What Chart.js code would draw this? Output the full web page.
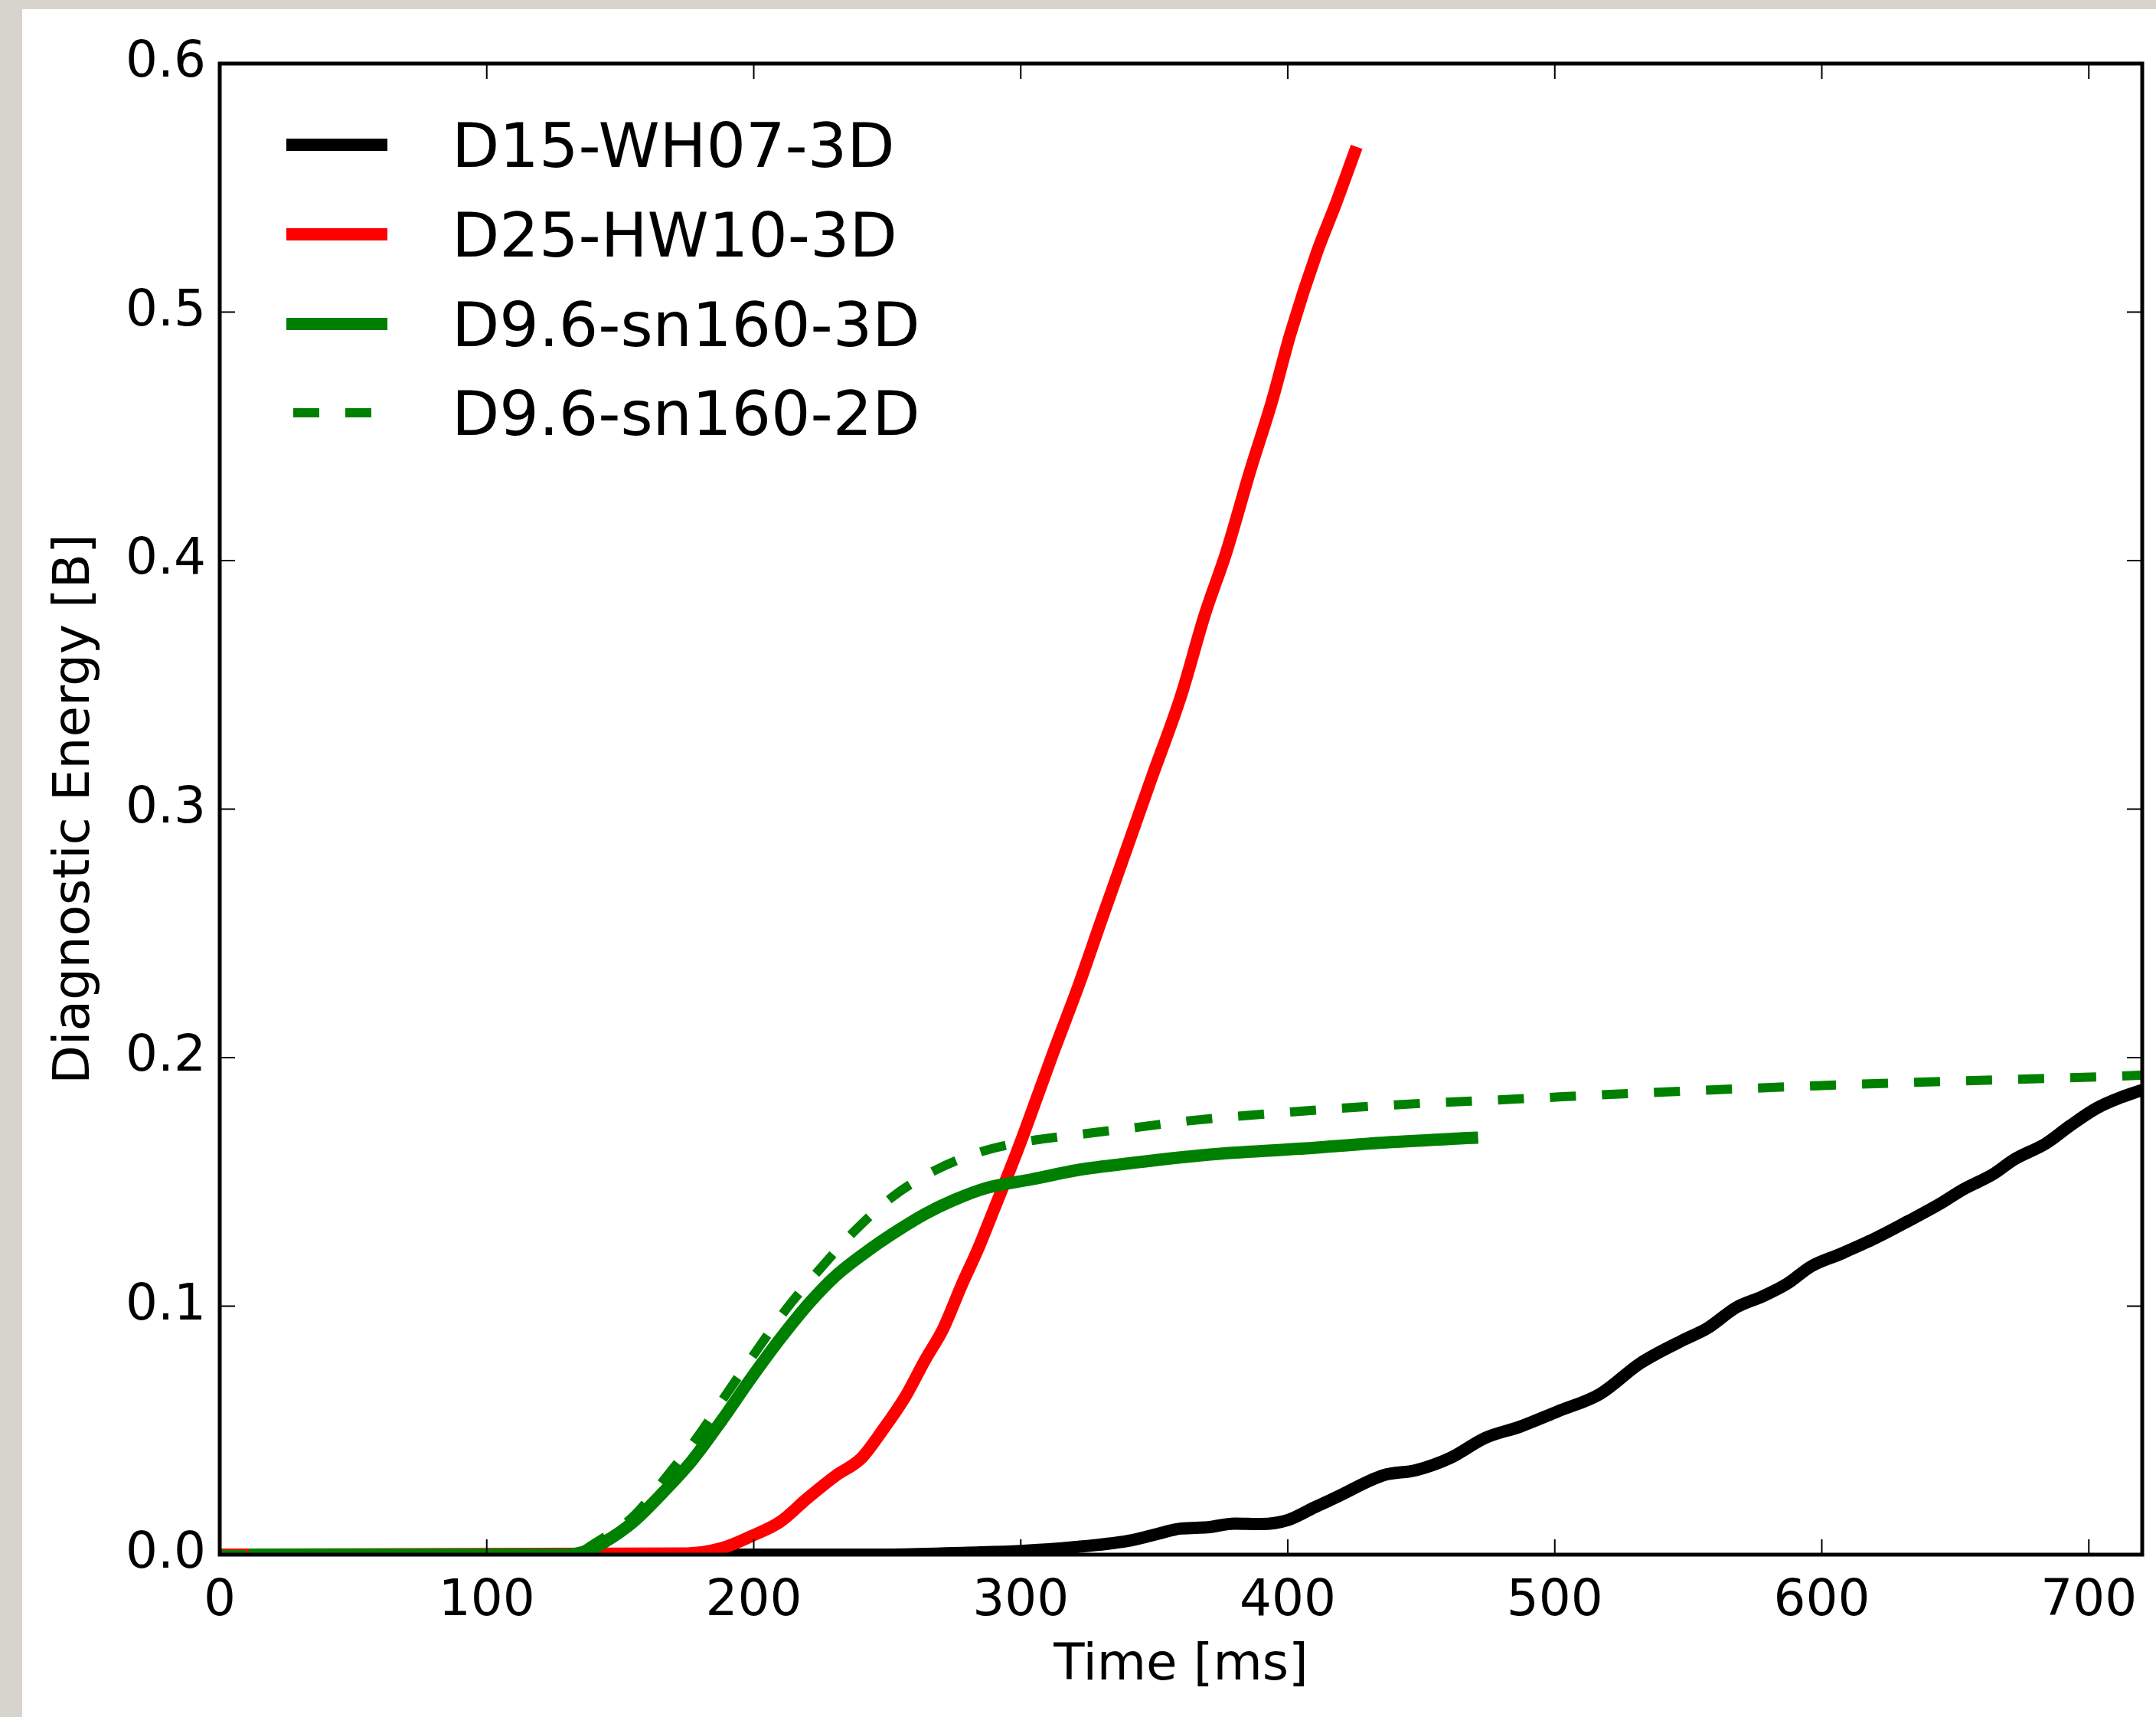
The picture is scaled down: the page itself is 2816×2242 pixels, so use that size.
<!DOCTYPE html>
<html lang="en">
<head>
    <meta charset="UTF-8">
    <title>Diagnostic Energy</title>
    <script src="https://cdn.jsdelivr.net/npm/chart.js@4"></script>
    <style>
        html, body {
            margin: 0;
            padding: 0;
        }
        body {
            width: 2816px;
            height: 2242px;
            background: #d7d4cd;
            position: relative;
            overflow: hidden;
        }
        .sheet {
            position: absolute;
            left: 29px;
            top: 12px;
            right: 0;
            bottom: 0;
            background: #fff;
        }
        #energy-chart {
            position: absolute;
            left: 0;
            top: 0;
        }
    </style>
</head>
<body>
    <div class="sheet"></div>
    <canvas id="energy-chart" width="2816" height="2242"></canvas>

    <script>
        // Time [ms] and diagnostic energy [B] for each run
        const d15Time   = [0, 250, 280, 300, 320, 340, 350, 360, 370, 380, 390, 400, 410, 418, 436, 448, 461, 474, 487, 501, 517, 532, 548, 557, 568, 578, 587, 596, 607, 620, 632, 644, 653, 664, 672, 684, 693, 703, 712, 720];
        const d15Energy = [0, 0, 0.0008, 0.0015, 0.003, 0.0055, 0.008, 0.0105, 0.011, 0.0125, 0.0123, 0.0139, 0.019, 0.023, 0.032, 0.034, 0.039, 0.047, 0.0515, 0.0576, 0.0647, 0.077, 0.0863, 0.091, 0.0995, 0.104, 0.109, 0.116, 0.121, 0.1273, 0.134, 0.141, 0.147, 0.153, 0.159, 0.1655, 0.1726, 0.1797, 0.184, 0.187];

        const d25Time   = [0, 175, 188, 199, 210, 220, 231, 240, 248, 257, 264, 271, 278, 284, 290, 296, 301, 312, 322, 330, 339, 349, 360, 369, 377, 386, 394, 401, 411, 418, 425];
        const d25Energy = [0, 0.0005, 0.0026, 0.0074, 0.0133, 0.0226, 0.032, 0.0385, 0.0497, 0.064, 0.078, 0.091, 0.1088, 0.123, 0.139, 0.155, 0.169, 0.2015, 0.23, 0.2547, 0.282, 0.3125, 0.3455, 0.3785, 0.4034, 0.4364, 0.4638, 0.4913, 0.5243, 0.5436, 0.5642];

        const d96Time3D   = [13, 130, 136, 144, 155, 166, 177, 188, 199, 210, 221, 231, 243, 254, 264, 275, 287, 304, 321, 337, 371, 404, 437, 469];
        const d96Energy3D = [0, 0, 0.001, 0.005, 0.0133, 0.025, 0.038, 0.054, 0.071, 0.087, 0.1015, 0.1125, 0.1225, 0.1305, 0.137, 0.1427, 0.1475, 0.151, 0.1547, 0.157, 0.161, 0.1633, 0.1659, 0.1677];

        const d96Time2D   = [0, 132, 141, 155, 167, 179, 190, 201, 212, 225, 238, 252, 268, 286, 303, 325, 344, 364, 402, 440, 479, 537, 596, 654, 712, 720];
        const d96Energy2D = [0, 0, 0.005, 0.0155, 0.031, 0.0475, 0.065, 0.082, 0.0986, 0.1152, 0.1305, 0.144, 0.1547, 0.1624, 0.1664, 0.1695, 0.172, 0.1747, 0.1782, 0.181, 0.183, 0.186, 0.1886, 0.1907, 0.1926, 0.193];

        const timeTicks = [0, 100, 200, 300, 400, 500, 600, 700];
        const energyTicks = [0.0, 0.1, 0.2, 0.3, 0.4, 0.5, 0.6];

        const FONT = 'DejaVu Sans';
        const SOLID_W = 16;
        const DASHED_W = 12;
        const DASH = [34, 34];

        function toPoints(xs, ys) {
            return xs.map((x, i) => ({ x: x, y: ys[i] }));
        }

        // later runs are drawn on top, like the original plot order
        const datasets = [
            { label: 'D15-WH07-3D',   data: toPoints(d15Time, d15Energy),     borderColor: '#000000', order: 4 },
            { label: 'D25-HW10-3D',   data: toPoints(d25Time, d25Energy),     borderColor: '#ff0000', order: 3 },
            { label: 'D9.6-sn160-3D', data: toPoints(d96Time3D, d96Energy3D), borderColor: '#008000', order: 2 },
            { label: 'D9.6-sn160-2D', data: toPoints(d96Time2D, d96Energy2D), borderColor: '#008000', order: 1,
              borderDash: DASH, borderCapStyle: 'butt', borderWidth: DASHED_W }
        ].map(ds => Object.assign({
            borderWidth: SOLID_W,
            pointRadius: 0,
            fill: false,
            cubicInterpolationMode: 'monotone',
            borderCapStyle: 'square',
            borderJoinStyle: 'round',
            clip: 0
        }, ds));

        // inward ticks on all four sides plus the box around the plot
        const framePlugin = {
            id: 'frame',
            afterDatasetsDraw(chart) {
                const { ctx, chartArea: a, scales } = chart;
                const len = 20;
                ctx.save();
                ctx.strokeStyle = '#000';
                ctx.lineWidth = 2;
                ctx.beginPath();
                timeTicks.forEach(v => {
                    const px = scales.x.getPixelForValue(v);
                    ctx.moveTo(px, a.bottom); ctx.lineTo(px, a.bottom - len);
                    ctx.moveTo(px, a.top);    ctx.lineTo(px, a.top + len);
                });
                energyTicks.forEach(v => {
                    const py = scales.y.getPixelForValue(v);
                    ctx.moveTo(a.left, py);  ctx.lineTo(a.left + len, py);
                    ctx.moveTo(a.right, py); ctx.lineTo(a.right - len, py);
                });
                ctx.stroke();
                ctx.lineWidth = 5;
                ctx.strokeRect(a.left, a.top, a.right - a.left, a.bottom - a.top);
                ctx.restore();
            }
        };

        // legend in the upper left corner, no frame
        const legendPlugin = {
            id: 'cornerLegend',
            afterDraw(chart) {
                const ctx = chart.ctx;
                const x0 = 374, x1 = 506, textX = 590;
                const rowY = [189, 306, 423, 539];
                ctx.save();
                ctx.font = '81px "' + FONT + '"';
                ctx.textBaseline = 'alphabetic';
                ctx.textAlign = 'left';
                chart.data.datasets.forEach((ds, i) => {
                    const y = rowY[i];
                    ctx.strokeStyle = ds.borderColor;
                    ctx.lineWidth = ds.borderWidth;
                    ctx.lineCap = 'butt';
                    if (ds.borderDash) {
                        ctx.setLineDash(ds.borderDash);
                        ctx.lineDashOffset = 59;
                    } else {
                        ctx.setLineDash([]);
                    }
                    ctx.beginPath();
                    ctx.moveTo(x0, y);
                    ctx.lineTo(x1, y);
                    ctx.stroke();
                    ctx.fillStyle = '#000';
                    ctx.fillText(ds.label, textX, y + 29);
                });
                ctx.restore();
            }
        };

        const ctx = document.getElementById('energy-chart').getContext('2d');
        new Chart(ctx, {
            type: 'line',
            data: { datasets: datasets },
            options: {
                responsive: false,
                animation: false,
                events: [],
                layout: { padding: { top: 83, right: 18, left: 0, bottom: 0 } },
                plugins: {
                    legend: { display: false },
                    tooltip: { enabled: false }
                },
                scales: {
                    x: {
                        type: 'linear',
                        min: 0,
                        max: 720,
                        grid: { display: false, drawTicks: false },
                        border: { display: false },
                        afterBuildTicks: s => { s.ticks = timeTicks.map(v => ({ value: v })); },
                        ticks: {
                            padding: 22,
                            maxRotation: 0,
                            color: '#000',
                            font: { family: FONT, size: 66 },
                            callback: v => String(v)
                        },
                        title: {
                            display: true,
                            text: 'Time [ms]',
                            color: '#000',
                            font: { family: FONT, size: 66 },
                            padding: { top: 0, bottom: 27 }
                        },
                        afterFit: s => { s.height = 2242 - 2030; }
                    },
                    y: {
                        type: 'linear',
                        min: 0,
                        max: 0.6,
                        grid: { display: false, drawTicks: false },
                        border: { display: false },
                        afterBuildTicks: s => { s.ticks = energyTicks.map(v => ({ value: v })); },
                        ticks: {
                            padding: 18,
                            color: '#000',
                            font: { family: FONT, size: 66 },
                            callback: v => v.toFixed(1)
                        },
                        title: {
                            display: true,
                            text: 'Diagnostic Energy [B]',
                            color: '#000',
                            font: { family: FONT, size: 66 },
                            padding: { top: 59, bottom: 0 }
                        },
                        afterFit: s => { s.width = 287; }
                    }
                }
            },
            plugins: [framePlugin, legendPlugin]
        });
    </script>
</body>
</html>
